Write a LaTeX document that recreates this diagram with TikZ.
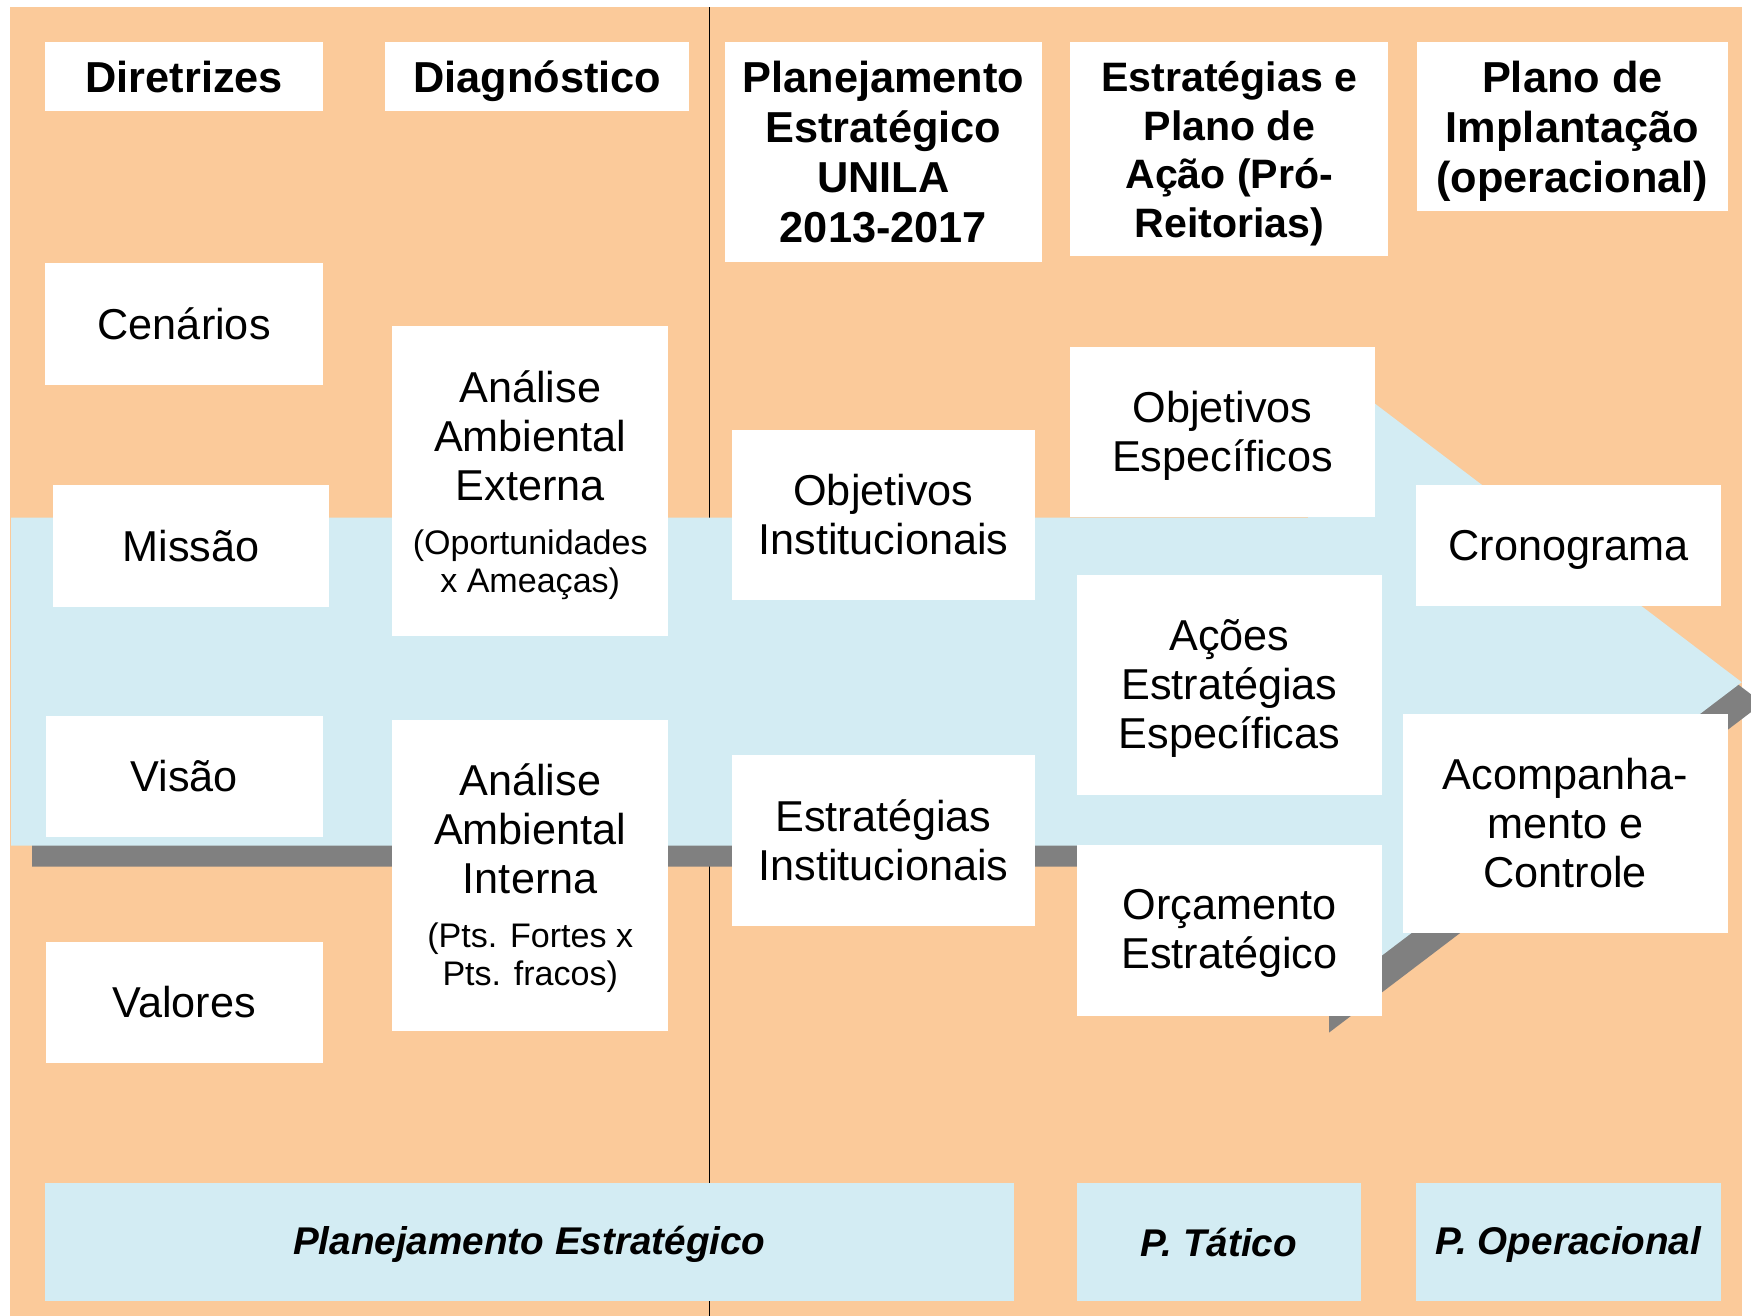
\documentclass[tikz,border=0pt]{standalone}
\usepackage{fontspec}
\setmainfont{Liberation Sans}
\definecolor{bgorange}{HTML}{FBCA9A}
\definecolor{bandblue}{HTML}{D3ECF3}
\definecolor{shadowgray}{HTML}{808080}
\newcommand\myBody{\fontsize{19.35}{22}\selectfont}
\newcommand\myHead{\fontsize{19.4}{22.5}\selectfont\bfseries}
\newcommand\myHeadS{\fontsize{18.4}{21.7}\selectfont\bfseries}
\newcommand\mySub{\fontsize{15.25}{17}\selectfont}
\newcommand\myFoot{\fontsize{17.3}{20}\selectfont\bfseries\itshape}
% box from corners, then its text: [text shift], style, name, x1, y1, x2, y2, text
\newcommand\bxnode[8][0pt]{%
  \node[#2, minimum width={(#6-#4)*0.5pt}, minimum height={(#7-#5)*0.5pt}] (#3) at ({(#4+#6)/2},{(#5+#7)/2}) {};
  \node[#2, fill=none, minimum width=0pt, minimum height=0pt, yshift=#1] (#3t) at (#3.center) {#8};}
\begin{document}
\begin{tikzpicture}[x=0.5pt,y=-0.5pt,
  wbox/.style={fill=white, draw=none, inner sep=0pt, outer sep=0pt, align=center, font=\myBody},
  hbox/.style={wbox, font=\myHead},
  fbox/.style={fill=bandblue, draw=none, inner sep=0pt, outer sep=0pt, align=center, font=\myFoot},
  bigtxt/.style={inner sep=0pt, align=center, font=\myBody},
  subtxt/.style={inner sep=0pt, align=center, font=\mySub},
  arrowshape/.style={fill=bandblue},
  arrowshadow/.style={fill=shadowgray}
]
\useasboundingbox (0,0) rectangle (1568,1178);
\clip (0,0) rectangle (1568,1178);
% background
\fill[bgorange] (9.4,6.6) rectangle (1559.7,1178);
% divider line
\coordinate (ltop) at (635.4,6.6);
\coordinate (lbot) at (635.4,1178);
\draw[line width=0.5pt] (ltop) -- (lbot);
% big arrow with shadow
\fill[arrowshadow, shift={(18.8,18.8)}] (9.9,463.5) -- (1171.4,463.5) -- (1171.4,316) -- (1559.7,610.9) -- (1171.4,905.8) -- (1171.4,757.3) -- (9.9,757.3) -- cycle;
\fill[arrowshape] (9.9,463.5) -- (1171.4,463.5) -- (1171.4,316) -- (1559.7,610.9) -- (1171.4,905.8) -- (1171.4,757.3) -- (9.9,757.3) -- cycle;
% headers
\bxnode{hbox}{dir}{40.7}{37.9}{289.2}{99.4}{Diretrizes}
\bxnode[-2pt]{hbox}{diag}{344.9}{37.9}{617.4}{99.4}{Diagnóstico}
\bxnode{hbox}{pe}{649}{37.9}{933.3}{234.3}{Planejamento\\Estratégico\\UNILA\\2013-2017}
\bxnode[-2pt]{hbox, font=\myHeadS}{epa}{958.6}{37.9}{1243}{229.2}{Estratégias e\\Plano de\\Ação (Pró-\\Reitorias)}
\bxnode[-2pt]{hbox}{pi}{1268.6}{37.9}{1547.4}{189}{Plano de\\Implantação\\(operacional)}
% column 1
\bxnode{wbox}{cen}{40.7}{235.8}{289.2}{344.8}{Cenários}
\bxnode{wbox}{mis}{47.2}{434}{294.9}{543.3}{Missão}
\bxnode{wbox}{vis}{40.9}{640.9}{289}{749.8}{Visão}
\bxnode{wbox}{val}{41.2}{843.3}{289}{951.6}{Valores}
% column 2
\bxnode{wbox}{aext}{351.3}{291.9}{598.3}{569.2}{}
\node[bigtxt] (aextT) at (474.8,390) {Análise\\Ambiental\\Externa};
\node[subtxt] (aextS) at (474.8,506) {(Oportunidades\\x Ameaças)};
\bxnode{wbox}{aint}{351.3}{644.8}{598.3}{923}{}
\node[bigtxt] (aintT) at (474.8,742) {Análise\\Ambiental\\Interna};
\node[subtxt] (aintS) at (474.8,858) {(Pts. Fortes x\\Pts. fracos)};
% column 3
\bxnode{wbox}{oi}{655.2}{384.7}{927}{537.3}{Objetivos\\Institucionais}
\bxnode{wbox}{ei}{655.2}{675.8}{927}{828.8}{Estratégias\\Institucionais}
% column 4
\bxnode[-1.5pt]{wbox}{oe}{958.6}{310.7}{1230.9}{463.3}{Objetivos\\Específicos}
\bxnode[-1.5pt]{wbox}{aee}{964.5}{514.7}{1237.3}{712}{Ações\\Estratégias\\Específicas}
\bxnode[-1.5pt]{wbox}{oes}{964.5}{756.9}{1237.3}{909.4}{Orçamento\\Estratégico}
% column 5
\bxnode[-2pt]{wbox}{cro}{1268}{434.5}{1541.2}{543}{Cronograma}
\bxnode{wbox}{acc}{1256.1}{639.2}{1547.1}{835.1}{Acompanha-\\mento e\\Controle}
% footer
\bxnode[-1pt]{fbox}{pes}{40}{1059.7}{908}{1164.8}{Planejamento Estratégico}
\bxnode{fbox}{pt}{964}{1059.7}{1219}{1164.8}{P. Tático}
\bxnode[-1pt]{fbox}{po}{1268}{1059.7}{1541}{1164.8}{P. Operacional}
\end{tikzpicture}
\end{document}
